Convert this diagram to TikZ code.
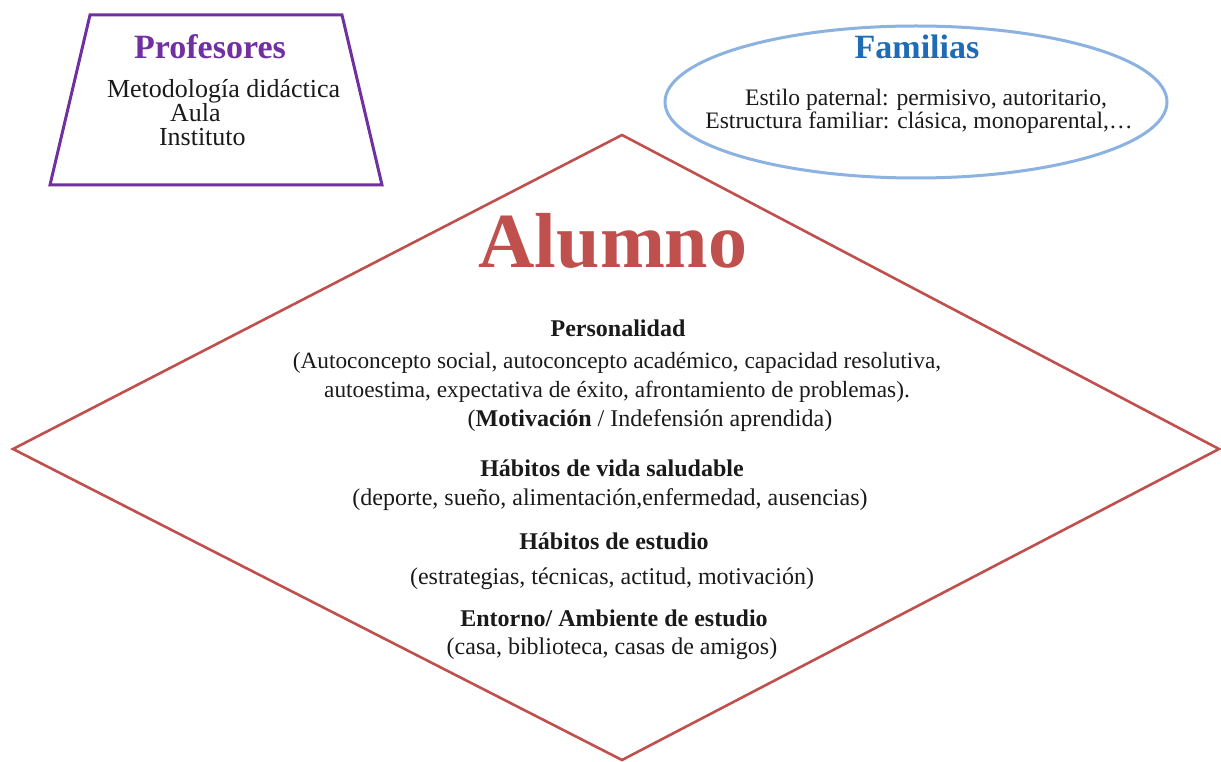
\documentclass[tikz,border=0pt]{standalone}
\usepackage{fontspec}
\setmainfont{Liberation Serif}
\definecolor{profpurple}{HTML}{7030A0}
\definecolor{famblue}{HTML}{1F6BB5}
\definecolor{ellblue}{HTML}{8BB2E0}
\definecolor{alured}{HTML}{C0504D}
\definecolor{txt}{HTML}{1A1A1A}
\begin{document}
\begin{tikzpicture}[x=1pt,y=-1pt,
  every node/.style={inner sep=0pt,outer sep=0pt,text=txt},
  title/.style={anchor=base,font=\fontsize{34}{38}\selectfont\bfseries},
  body/.style={anchor=base,font=\fontsize{24}{28}\selectfont},
  sbody/.style={anchor=base,font=\fontsize{23.3}{28}\selectfont},
  bodyb/.style={anchor=base,font=\fontsize{24}{28}\selectfont\bfseries},
  fbody/.style={anchor=base,font=\fontsize{23.6}{28}\selectfont},
  pbody/.style={anchor=base west,font=\fontsize{26}{28}\selectfont}]
\useasboundingbox (0,0) rectangle (1221,762);
\fill[white] (0,0) rectangle (1221,762);
% shapes
\coordinate (tTL) at (90,15);
\coordinate (tTR) at (342,15);
\coordinate (tBR) at (382,185);
\coordinate (tBL) at (50,185);
\draw[profpurple,line width=3pt,line join=miter] (tTL) -- (tTR) -- (tBR) -- (tBL) -- cycle;
\coordinate (fC) at (916,102);
\draw[ellblue,line width=3pt] (fC) ellipse [x radius=251, y radius=76];
\coordinate (dT) at (622,135);
\coordinate (dR) at (1219,449);
\coordinate (dB) at (622,760);
\coordinate (dL) at (13,449);
\draw[alured,line width=2.6pt,line join=miter] (dT) -- (dR) -- (dB) -- (dL) -- cycle;
% Profesores
\node[title,text=profpurple] (prof) at (210,59) {Profesores};
\node[pbody] (met) at (107,98) {Metodología didáctica};
\node[pbody] (aula) at (170,122) {Aula};
\node[pbody] (inst) at (159,146) {Instituto};
% Familias
\node[title,text=famblue] (fam) at (917,59) {Familias};
\node[fbody] (est) at (926,106) {Estilo paternal: permisivo, autoritario,};
\node[fbody] (estr) at (919,129) {Estructura familiar: clásica, monoparental,…};
% Alumno
\node[anchor=base,font=\fontsize{78}{90}\selectfont\bfseries,text=alured] (alu) at (613,268) {Alumno};
\node[bodyb] (pers) at (618,336) {Personalidad};
\node[sbody] (p1) at (617,368) {(Autoconcepto social, autoconcepto académico, capacidad resolutiva,};
\node[sbody] (p2) at (617,397) {autoestima, expectativa de éxito, afrontamiento de problemas).};
\node[body] (p3) at (650,426) {(\textbf{Motivación} / Indefensión aprendida)};
\node[bodyb] (hv) at (612,476) {Hábitos de vida saludable};
\node[body] (hv1) at (610,505) {(deporte, sueño, alimentación,enfermedad, ausencias)};
\node[bodyb] (he) at (614,549) {Hábitos de estudio};
\node[body] (he1) at (612,584) {(estrategias, técnicas, actitud, motivación)};
\node[bodyb] (en) at (614,626) {Entorno/ Ambiente de estudio};
\node[body] (en1) at (612,654) {(casa, biblioteca, casas de amigos)};
\end{tikzpicture}
\end{document}
